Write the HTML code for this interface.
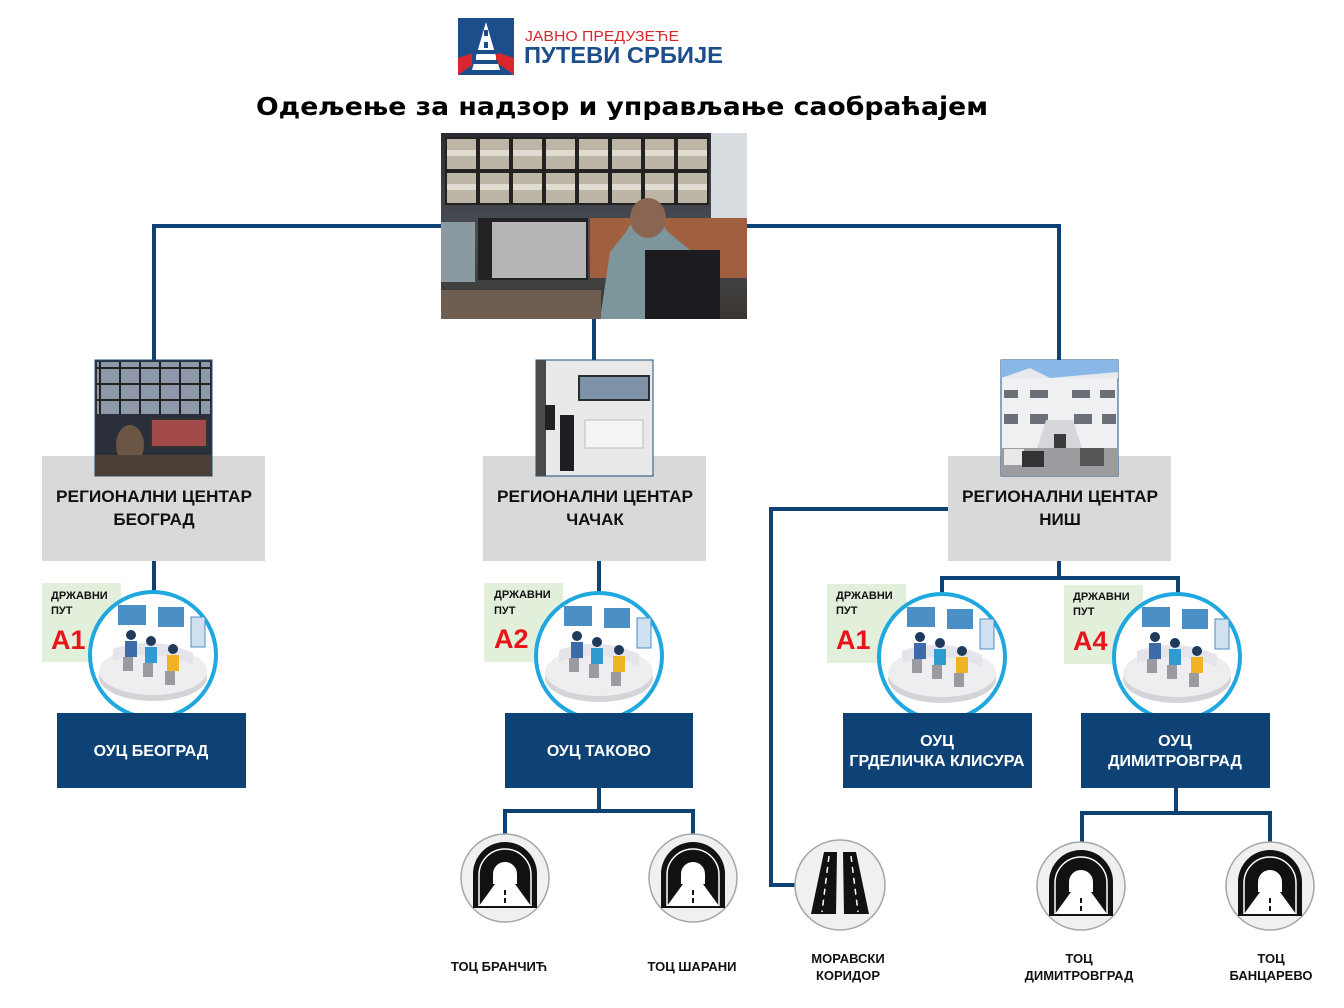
<!DOCTYPE html>
<html><head><meta charset="utf-8"><style>
html,body{margin:0;padding:0;background:#fff;}
svg{display:block;font-family:"Liberation Sans",sans-serif;}
</style></head><body>
<svg width="1344" height="1008" viewBox="0 0 1344 1008" xmlns="http://www.w3.org/2000/svg">
<defs>
<linearGradient id="ph1" x1="0" y1="0" x2="0" y2="1">
<stop offset="0" stop-color="#2a2d33"/><stop offset="0.55" stop-color="#4a4e55"/><stop offset="1" stop-color="#3a3530"/>
</linearGradient>
<pattern id="scr" width="33" height="34" patternUnits="userSpaceOnUse" x="445" y="137">
<rect width="33" height="34" fill="#222"/><rect x="2" y="2" width="29" height="30" fill="#bdb6a6"/><rect x="2" y="13" width="29" height="6" fill="#e0dcd2"/>
</pattern>
<pattern id="scr2" width="20" height="16" patternUnits="userSpaceOnUse">
<rect width="20" height="16" fill="#222"/><rect x="1" y="1" width="18" height="14" fill="#8d98a8"/>
</pattern>
<g id="tunnel">
<circle r="44" fill="#f0f0f0" stroke="#a6a6a6" stroke-width="1.5"/>
<path d="M-32,30 L-32,-4 A32,32 0 0 1 32,-4 L32,30 Z" fill="#111"/>
<path d="M-26,28 L-26,-3 A26,26 0 0 1 26,-3 L26,28" fill="none" stroke="#fff" stroke-width="1.5"/>
<path d="M-12,6 L-12,-4 A12,12 0 0 1 12,-4 L12,6 Z" fill="#fff"/>
<path d="M-10,6 L10,6 L26,28 L-26,28 Z" fill="#fff"/>
<rect x="-1" y="12" width="2" height="5" fill="#111"/><rect x="-1" y="20" width="2" height="5" fill="#111"/>
</g>
<g id="ws">
<circle r="63" fill="#fff" stroke="#1fa8e0" stroke-width="4"/>
<ellipse cx="0" cy="22" rx="54" ry="24" fill="#d4d4d8"/>
<ellipse cx="0" cy="16" rx="54" ry="24" fill="#eeeef0"/>
<path d="M-40,-6 Q0,-20 40,-2 L40,10 Q0,-8 -40,6 Z" fill="#e4e4ea"/>
<rect x="-35" y="-50" width="28" height="20" fill="#4b8fc7"/>
<rect x="5" y="-48" width="26" height="20" fill="#4b8fc7"/>
<rect x="38" y="-38" width="14" height="30" fill="#cfe1f0" stroke="#4b8fc7"/>
<circle cx="-22" cy="-20" r="5" fill="#1f3a5a"/><rect x="-28" y="-14" width="12" height="16" fill="#3d6aa8"/>
<circle cx="-2" cy="-14" r="5" fill="#1f3a5a"/><rect x="-8" y="-8" width="12" height="16" fill="#2f9ccf"/>
<circle cx="20" cy="-6" r="5" fill="#1f3a5a"/><rect x="14" y="0" width="12" height="16" fill="#f0b323"/>
<rect x="-30" y="2" width="10" height="14" fill="#9a9aa0"/><rect x="-10" y="8" width="10" height="14" fill="#9a9aa0"/><rect x="12" y="16" width="10" height="14" fill="#9a9aa0"/>
</g>
</defs>

<!-- logo -->
<rect x="458" y="18" width="56" height="57" fill="#1d4e8c"/>
<path d="M486,22 L500,70 L472,70 Z" fill="#fff"/>
<rect x="484" y="30" width="4" height="6" fill="#1d4e8c"/><rect x="484" y="42" width="4" height="6" fill="#1d4e8c"/>
<path d="M458,58 L476,52 L476,62 L458,75 Z" fill="#d9262c"/><path d="M514,58 L496,52 L496,62 L514,75 Z" fill="#d9262c"/>
<rect x="472" y="50" width="26" height="4" fill="#1d4e8c"/><rect x="472" y="60" width="26" height="4" fill="#1d4e8c"/><rect x="472" y="50" width="4" height="14" fill="#1d4e8c"/>
<text x="525" y="41" font-size="15" fill="#d9262c" textLength="154" lengthAdjust="spacingAndGlyphs">ЈАВНО ПРЕДУЗЕЋЕ</text>
<text x="524" y="63" font-size="23" font-weight="bold" fill="#1d4e8c" textLength="199" lengthAdjust="spacingAndGlyphs">ПУТЕВИ СРБИЈЕ</text>

<text x="622" y="115" font-size="25" font-weight="bold" text-anchor="middle" font-family="DejaVu Sans, sans-serif" textLength="732" lengthAdjust="spacingAndGlyphs">Одељење за надзор и управљање саобраћајем</text>

<!-- connectors -->
<g stroke="#0e4174" stroke-width="4" fill="none">
<polyline points="154,360 154,226 441,226"/>
<polyline points="747,226 1059,226 1059,360"/>
<line x1="594" y1="319" x2="594" y2="360"/>
<line x1="154" y1="561" x2="154" y2="595"/>
<line x1="599" y1="561" x2="599" y2="595"/>
<line x1="1059" y1="561" x2="1059" y2="578"/>
<polyline points="942,596 942,578 1178,578 1178,596"/>
<polyline points="948,509 771,509 771,885 797,885"/>
<polyline points="505,838 505,811 693,811 693,838"/>
<line x1="599" y1="788" x2="599" y2="811"/>
<polyline points="1082,842 1082,813 1270,813 1270,842"/>
<line x1="1176" y1="788" x2="1176" y2="813"/>
</g>

<!-- main photo -->
<rect x="441" y="133" width="306" height="186" fill="url(#ph1)"/>
<rect x="445" y="137" width="264" height="68" fill="url(#scr)"/>
<rect x="711" y="133" width="36" height="100" fill="#d8dde2"/>
<rect x="478" y="218" width="110" height="62" fill="#222"/><rect x="492" y="222" width="94" height="56" fill="#b7b4b8"/>
<rect x="590" y="218" width="157" height="60" fill="#a0603f"/>
<rect x="441" y="222" width="34" height="60" fill="#8a9aa0"/>
<path d="M626,232 Q645,196 668,232 L690,250 L720,250 L715,319 L600,319 L610,252 Z" fill="#7c969c"/>
<ellipse cx="648" cy="218" rx="18" ry="20" fill="#8a6652"/>
<rect x="645" y="250" width="75" height="69" fill="#1c1c20"/>
<rect x="441" y="290" width="160" height="29" fill="#6e5e52"/>

<!-- gray boxes -->
<rect x="42" y="456" width="223" height="105" fill="#d9d9d9"/>
<rect x="483" y="456" width="223" height="105" fill="#d9d9d9"/>
<rect x="948" y="456" width="223" height="105" fill="#d9d9d9"/>

<rect x="95" y="360" width="117" height="116" fill="#2b2f3a" stroke="#1f4e79"/>
<rect x="97" y="362" width="113" height="52" fill="url(#scr2)"/>
<rect x="150" y="418" width="58" height="30" fill="#333"/><rect x="152" y="420" width="54" height="26" fill="#a34a4a"/>
<ellipse cx="130" cy="445" rx="14" ry="20" fill="#6b5545"/>
<rect x="95" y="455" width="117" height="21" fill="#4a4038"/>

<rect x="536" y="360" width="117" height="116" fill="#e9e9ea" stroke="#1f4e79"/>
<rect x="578" y="375" width="72" height="26" fill="#2a2d35"/><rect x="580" y="377" width="68" height="22" fill="#7f93a8"/>
<rect x="536" y="360" width="10" height="116" fill="#4a4a4a"/>
<rect x="585" y="420" width="58" height="28" fill="#f4f4f4" stroke="#bbb"/>
<rect x="560" y="415" width="14" height="56" fill="#1e1e22"/>
<rect x="545" y="405" width="10" height="25" fill="#222"/>

<rect x="1001" y="360" width="117" height="116" fill="#eef0f2" stroke="#1f4e79"/>
<rect x="1001" y="360" width="117" height="18" fill="#8ab8e6"/>
<path d="M1001,378 L1030,368 L1050,378 L1118,372 L1118,378 Z" fill="#e7e9ec"/>
<g fill="#6b7078"><rect x="1004" y="390" width="14" height="8"/><rect x="1030" y="390" width="18" height="8"/><rect x="1072" y="390" width="18" height="8"/><rect x="1100" y="390" width="15" height="8"/>
<rect x="1004" y="414" width="14" height="10"/><rect x="1030" y="414" width="18" height="10"/><rect x="1074" y="414" width="18" height="10"/><rect x="1102" y="414" width="14" height="10"/></g>
<path d="M1046,420 L1073,420 L1085,458 L1034,458 Z" fill="#d5d7da"/>
<rect x="1054" y="434" width="12" height="24" fill="#3a3a3a"/>
<rect x="1001" y="448" width="117" height="28" fill="#9a9ca0"/>
<rect x="1004" y="449" width="20" height="16" fill="#e8e8e8"/><rect x="1022" y="451" width="22" height="16" fill="#333"/><rect x="1080" y="448" width="24" height="18" fill="#555"/>

<g font-size="17" font-weight="bold" text-anchor="middle" fill="#111">
<text x="154" y="502" textLength="196" lengthAdjust="spacingAndGlyphs">РЕГИОНАЛНИ  ЦЕНТАР</text><text x="154" y="525">БЕОГРАД</text>
<text x="595" y="502" textLength="196" lengthAdjust="spacingAndGlyphs">РЕГИОНАЛНИ  ЦЕНТАР</text><text x="595" y="525">ЧАЧАК</text>
<text x="1060" y="502" textLength="196" lengthAdjust="spacingAndGlyphs">РЕГИОНАЛНИ  ЦЕНТАР</text><text x="1060" y="525">НИШ</text>
</g>

<!-- green labels -->
<g>
<rect x="42" y="583" width="79" height="79" fill="#e2efda"/>
<rect x="484" y="583" width="79" height="79" fill="#e2efda"/>
<rect x="827" y="584" width="79" height="79" fill="#e2efda"/>
<rect x="1064" y="585" width="79" height="79" fill="#e2efda"/>
</g>
<g font-size="11" font-weight="bold" fill="#111">
<text x="51" y="599">ДРЖАВНИ</text><text x="51" y="614">ПУТ</text>
<text x="494" y="598">ДРЖАВНИ</text><text x="494" y="614">ПУТ</text>
<text x="836" y="599">ДРЖАВНИ</text><text x="836" y="614">ПУТ</text>
<text x="1073" y="600">ДРЖАВНИ</text><text x="1073" y="615">ПУТ</text>
</g>
<g font-size="27" font-weight="bold" fill="#e8141a">
<text x="51" y="649">А1</text><text x="494" y="648">А2</text><text x="836" y="649">А1</text><text x="1073" y="650">А4</text>
</g>
<use href="#ws" x="153" y="655"/>
<use href="#ws" x="599" y="656"/>
<use href="#ws" x="942" y="657"/>
<use href="#ws" x="1177" y="657"/>

<!-- blue boxes -->
<g fill="#0e4174">
<rect x="57" y="713" width="189" height="75"/>
<rect x="505" y="713" width="188" height="75"/>
<rect x="843" y="713" width="189" height="75"/>
<rect x="1081" y="713" width="189" height="75"/>
</g>
<g font-size="16" font-weight="bold" fill="#fff" text-anchor="middle">
<text x="151" y="756">ОУЦ БЕОГРАД</text>
<text x="599" y="756">ОУЦ ТАКОВО</text>
<text x="937" y="746">ОУЦ</text><text x="937" y="766">ГРДЕЛИЧКА КЛИСУРА</text>
<text x="1175" y="746">ОУЦ</text><text x="1175" y="766">ДИМИТРОВГРАД</text>
</g>

<!-- tunnels -->
<use href="#tunnel" x="505" y="878"/>
<use href="#tunnel" x="693" y="878"/>
<use href="#tunnel" x="1081" y="886"/>
<use href="#tunnel" x="1270" y="886"/>
<circle cx="840" cy="885" r="45" fill="#f0f0f0" stroke="#a6a6a6" stroke-width="1.5"/>
<path d="M824,852 L837,852 L836,914 L811,914 Z" fill="#111"/>
<path d="M843,852 L856,852 L869,914 L844,914 Z" fill="#111"/>
<g stroke="#fff" stroke-width="1.5" stroke-dasharray="6,5"><line x1="829" y1="856" x2="822" y2="912"/><line x1="851" y1="856" x2="858" y2="912"/></g>

<g font-size="13" font-weight="bold" fill="#111" text-anchor="middle">
<text x="499" y="971">ТОЦ БРАНЧИЋ</text>
<text x="692" y="971">ТОЦ ШАРАНИ</text>
<text x="848" y="963">МОРАВСКИ</text><text x="848" y="980">КОРИДОР</text>
<text x="1079" y="963">ТОЦ</text><text x="1079" y="980">ДИМИТРОВГРАД</text>
<text x="1271" y="963">ТОЦ</text><text x="1271" y="980">БАНЦАРЕВО</text>
</g>
</svg>
</body></html>
